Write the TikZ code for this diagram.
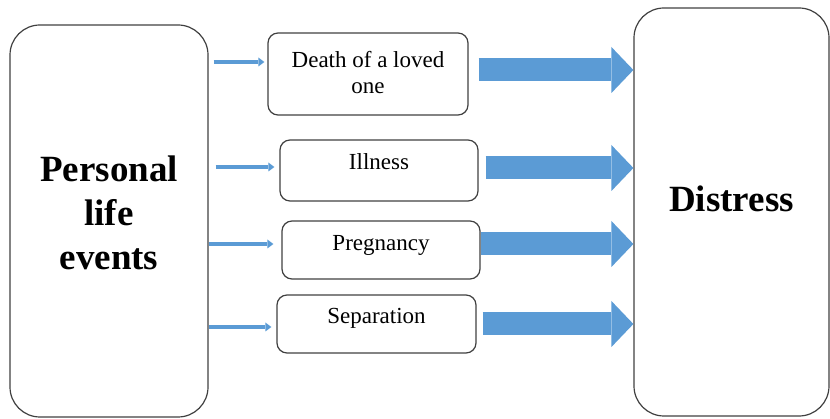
\documentclass[tikz,border=0pt]{standalone}
\usepackage{fontspec}
\setmainfont{Liberation Serif}
\usepackage{xcolor}
\usepackage{tikz}
\usetikzlibrary{arrows.meta}

\definecolor{arrowblue}{RGB}{91,155,213}
\definecolor{boxline}{RGB}{64,64,64}

\begin{document}
\begin{tikzpicture}[x=1pt, y=-1pt, >=Stealth,
    sidebox/.style={draw=boxline, line width=1.2pt, rounded corners=30pt, inner sep=0pt,
      align=center, font=\fontsize{37}{44}\selectfont\bfseries},
    event/.style={draw=boxline, line width=1.2pt, rounded corners=10pt, inner sep=0pt,
      align=center, font=\fontsize{23}{26}\selectfont},
    feed/.style={draw=arrowblue, line width=3.5pt,
      -{Triangle[length=6pt, width=9pt, line width=0pt]}},
    push/.style={draw=arrowblue, line width=23pt,
      -{Triangle[length=22pt, width=46pt, line width=0pt]}}]
    \useasboundingbox (0,0) rectangle (830,419);

    % Boxes
    \node[sidebox, minimum width=198pt, minimum height=392pt, text depth=16pt] (personal) at (109,221) {Personal\\life\\events};
    \node[sidebox, minimum width=195pt, minimum height=408pt, text height=25pt, text depth=25pt] (distress) at (731.5,212) {Distress};
    \node[event, minimum width=200pt, minimum height=82pt, text depth=4pt] (death) at (368,74) {Death of a loved\\one};
    \node[event, minimum width=198pt, minimum height=61pt, text height=15pt, text depth=17pt] (illness) at (379,170.5) {Illness};
    \node[event, minimum width=198pt, minimum height=58pt, text height=15pt, text depth=14pt] (pregnancy) at (381,250) {Pregnancy};
    \node[event, minimum width=199pt, minimum height=58pt, text height=15pt, text depth=16pt] (separation) at (376.5,324) {Separation};

    % Rows of the arrows
    \coordinate (f1) at (0,62);
    \coordinate (f2) at (0,167);
    \coordinate (f3) at (0,244);
    \coordinate (f4) at (0,327);
    \coordinate (p1) at (0,70);
    \coordinate (p2) at (0,168);
    \coordinate (p3) at (0,244);
    \coordinate (p4) at (0,324);

    % Life events
    \draw[feed, shorten <=5pt, shorten >=3pt] (personal.east |- f1) -- (death.west |- f1);
    \draw[feed, shorten <=7pt, shorten >=5pt] (personal.east |- f2) -- (illness.west |- f2);
    \draw[feed, shorten <=0pt, shorten >=8pt] (personal.east |- f3) -- (pregnancy.west |- f3);
    \draw[feed, shorten <=0pt, shorten >=5pt] (personal.east |- f4) -- (separation.west |- f4);

    % Into distress
    \draw[push, shorten <=10pt] (death.east |- p1) -- (distress.west |- p1);
    \draw[push, shorten <=7pt] (illness.east |- p2) -- (distress.west |- p2);
    \draw[push] (pregnancy.east |- p3) -- (distress.west |- p3);
    \draw[push, shorten <=6pt] (separation.east |- p4) -- (distress.west |- p4);
  \end{tikzpicture}
\end{document}
